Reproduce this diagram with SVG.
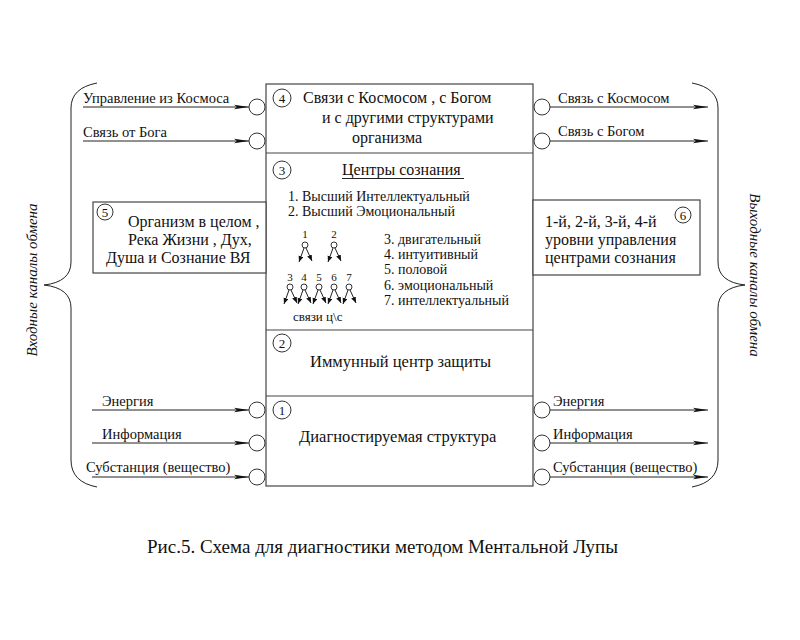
<svg xmlns="http://www.w3.org/2000/svg" width="800" height="640" viewBox="0 0 800 640">
<defs>
<marker id="ah" markerUnits="userSpaceOnUse" markerWidth="15" markerHeight="6" refX="15" refY="3" orient="auto">
<path d="M0,0.8 L15,3 L0,5.2 L3,3 z" fill="#111"/>
</marker>
<marker id="sa" markerUnits="userSpaceOnUse" markerWidth="6" markerHeight="6" refX="6" refY="2.5" orient="auto">
<path d="M0,0 L6,2.5 L0,5 z" fill="#111"/>
</marker>
</defs>
<rect width="800" height="640" fill="#fff"/>

<g id="braces" stroke="#222" stroke-width="1" fill="none">
<path d="M97,83 Q71,88 71,108 L71,262 Q71,282 44,285 Q71,288 71,308 L71,460 Q71,482 97,487"/>
<path d="M692,83 Q718,88 718,108 L718,262 Q718,282 745,285 Q718,288 718,308 L718,460 Q718,482 692,487"/>
</g>

<g id="center-box" stroke="#444" stroke-width="1.2" fill="#fff">
<rect x="266" y="84" width="267" height="402"/>
<line x1="266" y1="153" x2="533" y2="153"/>
<line x1="266" y1="330" x2="533" y2="330"/>
<line x1="266" y1="396" x2="533" y2="396"/>
</g>

<g id="node4">
<circle cx="282" cy="98" r="9" stroke="#333" fill="#fff"/>
<text font-family="Times New Roman" font-size="13" fill="#111" x="282" y="102.5" text-anchor="middle">4</text>
<text font-family="Times New Roman" font-size="16" fill="#111" x="303" y="103">Связи с Космосом , с Богом</text>
<text font-family="Times New Roman" font-size="16" fill="#111" x="322" y="123">и с другими структурами</text>
<text font-family="Times New Roman" font-size="16" fill="#111" x="352" y="143">организма</text>
</g>

<g id="node3">
<circle cx="282" cy="170" r="9" stroke="#333" fill="#fff"/>
<text font-family="Times New Roman" font-size="13" fill="#111" x="282" y="174.5" text-anchor="middle">3</text>
<text font-family="Times New Roman" font-size="16" fill="#111" x="342" y="175">Центры сознания</text>
<line x1="342" y1="178.5" x2="464" y2="178.5" stroke="#222"/>
<text font-family="Times New Roman" font-size="14" fill="#111" x="288" y="201">1. Высший Интеллектуальный</text>
<text font-family="Times New Roman" font-size="14" fill="#111" x="288" y="216">2. Высший Эмоциональный</text>
<text font-family="Times New Roman" font-size="14" fill="#111" x="384" y="244">3. двигательный</text>
<text font-family="Times New Roman" font-size="14" fill="#111" x="384" y="259">4. интуитивный</text>
<text font-family="Times New Roman" font-size="14" fill="#111" x="384" y="274">5. половой</text>
<text font-family="Times New Roman" font-size="14" fill="#111" x="384" y="290">6. эмоциональный</text>
<text font-family="Times New Roman" font-size="14" fill="#111" x="384" y="305">7. интеллектуальный</text>
<g id="tree">
<text font-family="Times New Roman" font-size="11" fill="#111" text-anchor="middle" x="305" y="238">1</text>
<text font-family="Times New Roman" font-size="11" fill="#111" text-anchor="middle" x="334" y="238">2</text>
<text font-family="Times New Roman" font-size="11" fill="#111" text-anchor="middle" x="290" y="281">3</text>
<text font-family="Times New Roman" font-size="11" fill="#111" text-anchor="middle" x="304" y="281">4</text>
<text font-family="Times New Roman" font-size="11" fill="#111" text-anchor="middle" x="319" y="281">5</text>
<text font-family="Times New Roman" font-size="11" fill="#111" text-anchor="middle" x="334" y="281">6</text>
<text font-family="Times New Roman" font-size="11" fill="#111" text-anchor="middle" x="349" y="281">7</text>
<g stroke="#333" fill="#fff">
<circle cx="305" cy="245" r="3"/>
<circle cx="334" cy="245" r="3"/>
<circle cx="290" cy="287" r="3"/>
<circle cx="304" cy="287" r="3"/>
<circle cx="319" cy="287" r="3"/>
<circle cx="334" cy="287" r="3"/>
<circle cx="349" cy="287" r="3"/>
</g>
<text font-family="Times New Roman" font-size="13" fill="#111" x="293" y="321">связи ц\с</text>
</g>
</g>

<g id="node2">
<circle cx="282" cy="343" r="9" stroke="#333" fill="#fff"/>
<text font-family="Times New Roman" font-size="13" fill="#111" x="282" y="347.5" text-anchor="middle">2</text>
<text font-family="Times New Roman" font-size="16.5" fill="#111" x="310" y="367">Иммунный центр защиты</text>
</g>

<g id="node1">
<circle cx="282" cy="410" r="9" stroke="#333" fill="#fff"/>
<text font-family="Times New Roman" font-size="13" fill="#111" x="282" y="414.5" text-anchor="middle">1</text>
<text font-family="Times New Roman" font-size="16.5" fill="#111" x="299" y="442">Диагностируемая структура</text>
</g>

<g id="node5">
<rect x="93" y="202" width="173" height="71" stroke="#444" stroke-width="1.2" fill="#fff"/>
<circle cx="105" cy="212" r="8" stroke="#333" fill="#fff"/>
<text font-family="Times New Roman" font-size="13" fill="#111" x="105" y="216.5" text-anchor="middle">5</text>
<text font-family="Times New Roman" font-size="16" fill="#111" x="128" y="227">Организм в целом ,</text>
<text font-family="Times New Roman" font-size="16" fill="#111" x="128" y="245">Река Жизни , Дух,</text>
<text font-family="Times New Roman" font-size="16" fill="#111" x="106" y="263">Душа и Сознание ВЯ</text>
</g>

<g id="node6">
<rect x="533" y="200" width="167" height="75" stroke="#444" stroke-width="1.2" fill="#fff"/>
<circle cx="683" cy="215" r="8" stroke="#333" fill="#fff"/>
<text font-family="Times New Roman" font-size="13" fill="#111" x="683" y="219.5" text-anchor="middle">6</text>
<text font-family="Times New Roman" font-size="16" fill="#111" x="545" y="227">1-й, 2-й, 3-й, 4-й</text>
<text font-family="Times New Roman" font-size="16" fill="#111" x="545" y="245">уровни управления</text>
<text font-family="Times New Roman" font-size="16" fill="#111" x="545" y="263">центрами сознания</text>
</g>

<g id="ports" stroke="#333" fill="#fff">
<circle cx="257" cy="107" r="8"/>
<circle cx="257" cy="141" r="8"/>
<circle cx="257" cy="410" r="8"/>
<circle cx="257" cy="443" r="8"/>
<circle cx="257" cy="477" r="8"/>
<circle cx="542" cy="107" r="8"/>
<circle cx="542" cy="141" r="8"/>
<circle cx="542" cy="410" r="8"/>
<circle cx="542" cy="443" r="8"/>
<circle cx="542" cy="477" r="8"/>
</g>

<g id="connectors" stroke="#222" stroke-width="1" fill="none">
<line x1="83" y1="107" x2="249" y2="107" marker-end="url(#ah)"/>
<line x1="83" y1="141" x2="249" y2="141" marker-end="url(#ah)"/>
<line x1="92" y1="410" x2="249" y2="410" marker-end="url(#ah)"/>
<line x1="92" y1="443" x2="249" y2="443" marker-end="url(#ah)"/>
<line x1="92" y1="477" x2="249" y2="477" marker-end="url(#ah)"/>
<line x1="550" y1="107" x2="708" y2="107" marker-end="url(#ah)"/>
<line x1="550" y1="141" x2="708" y2="141" marker-end="url(#ah)"/>
<line x1="550" y1="410" x2="708" y2="410" marker-end="url(#ah)"/>
<line x1="550" y1="443" x2="708" y2="443" marker-end="url(#ah)"/>
<line x1="550" y1="477" x2="708" y2="477" marker-end="url(#ah)"/>
<g id="tree-arrows">
<line x1="304" y1="248" x2="299" y2="262" marker-end="url(#sa)"/>
<line x1="306" y1="248" x2="312" y2="261" marker-end="url(#sa)"/>
<line x1="333" y1="248" x2="328" y2="262" marker-end="url(#sa)"/>
<line x1="335" y1="248" x2="341" y2="261" marker-end="url(#sa)"/>
<line x1="289" y1="290" x2="284" y2="304" marker-end="url(#sa)"/>
<line x1="291" y1="290" x2="297" y2="303" marker-end="url(#sa)"/>
<line x1="303" y1="290" x2="298" y2="304" marker-end="url(#sa)"/>
<line x1="305" y1="290" x2="311" y2="303" marker-end="url(#sa)"/>
<line x1="318" y1="290" x2="313" y2="304" marker-end="url(#sa)"/>
<line x1="320" y1="290" x2="326" y2="303" marker-end="url(#sa)"/>
<line x1="333" y1="290" x2="328" y2="304" marker-end="url(#sa)"/>
<line x1="335" y1="290" x2="341" y2="303" marker-end="url(#sa)"/>
<line x1="348" y1="290" x2="343" y2="304" marker-end="url(#sa)"/>
<line x1="350" y1="290" x2="356" y2="303" marker-end="url(#sa)"/>
</g>
</g>

<g id="labels">
<text font-family="Times New Roman" font-size="14.5" fill="#111" x="83" y="103">Управление из Космоса</text>
<text font-family="Times New Roman" font-size="14.5" fill="#111" x="83" y="137">Связь от Бога</text>
<text font-family="Times New Roman" font-size="14.5" fill="#111" x="102" y="406">Энергия</text>
<text font-family="Times New Roman" font-size="14.5" fill="#111" x="102" y="439">Информация</text>
<text font-family="Times New Roman" font-size="14.5" fill="#111" x="86" y="472">Субстанция (вещество)</text>
<text font-family="Times New Roman" font-size="14.5" fill="#111" x="558" y="103">Связь с Космосом</text>
<text font-family="Times New Roman" font-size="14.5" fill="#111" x="558" y="136">Связь с Богом</text>
<text font-family="Times New Roman" font-size="14.5" fill="#111" x="553" y="406">Энергия</text>
<text font-family="Times New Roman" font-size="14.5" fill="#111" x="553" y="439">Информация</text>
<text font-family="Times New Roman" font-size="14.5" fill="#111" x="553" y="472">Субстанция (вещество)</text>
<text font-family="Times New Roman" font-size="15" font-style="italic" fill="#111" transform="translate(37,280) rotate(-90)" text-anchor="middle">Входные каналы обмена</text>
<text font-family="Times New Roman" font-size="15" font-style="italic" fill="#111" transform="translate(750,275) rotate(90)" text-anchor="middle">Выходные каналы обмена</text>
<text font-family="Times New Roman" font-size="19" fill="#111" x="147" y="553">Рис.5. Схема для диагностики методом Ментальной Лупы</text>
</g>
</svg>
